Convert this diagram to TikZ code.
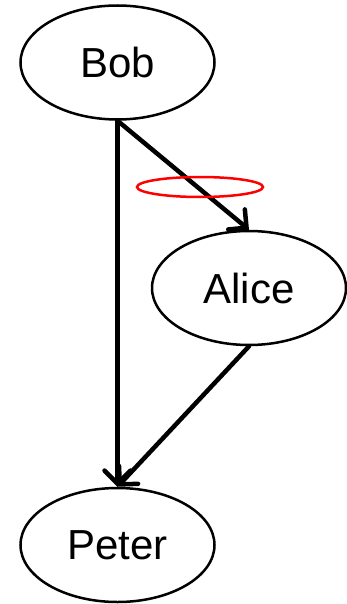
\documentclass[tikz,border=0pt]{standalone}
\usepackage{fontspec}
\setmainfont{Liberation Sans}
\usetikzlibrary{shapes.geometric,arrows.meta}
\tikzset{
	person/.style={ellipse, draw, line width=2.5pt, inner sep=0pt,
		minimum width=194pt, minimum height=114pt,
		font=\fontsize{42}{48}\selectfont},
	link/.style={line width=4.5pt, line cap=round,
		-{Straight Barb[length=13pt,width=26pt,line cap=round]}},
}
\begin{document}
\begin{tikzpicture}[x=1pt, y=-1pt]
	\useasboundingbox (0,0) rectangle (346,604);
	\node[person] (bob) at (117.5,62.5) {Bob};
	\node[person] (alice) at (249,288) {Alice};
	\node[person] (peter) at (117.5,545) {Peter};
	%liens
	\draw[link] (bob.south) -- (peter.north);
	\draw[link] (bob.south) -- (alice.north);
	\draw[link] (alice.south) -- (peter.north);
	%marque
	\node[ellipse, draw=red, line width=2.5pt, inner sep=0pt,
		minimum width=126pt, minimum height=20pt] (ring) at (200,187) {};
\end{tikzpicture}
\end{document}
